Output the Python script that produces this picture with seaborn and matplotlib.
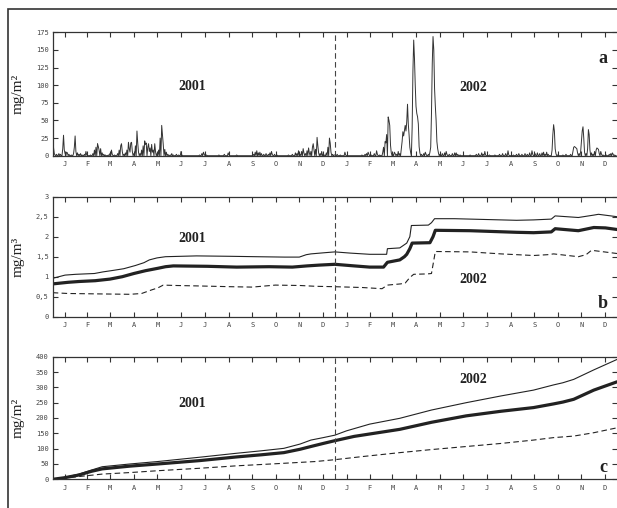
import numpy as np
import pandas as pd
import seaborn as sns
from matplotlib import pyplot as plt
from matplotlib.patches import Rectangle

# x axis: day counted from 1 Jan 2001 (0..730)
months = ['J', 'F', 'M', 'A', 'M', 'J', 'J', 'A', 'S', 'O', 'N', 'D'] * 2
mid_month = [15.5, 45, 74.5, 105, 135.5, 166, 196.5, 227.5, 258, 288.5, 319, 349.5]
month_ticks = mid_month + [d + 365 for d in mid_month]

# panel a: daily deposition (mg/m2), days not listed read as 0
a_days = [0, 1, 2, 3, 5, 8, 10, 13, 14, 15, 16, 18, 19, 21, 24, 27, 28, 29, 30, 32, 34, 36, 38,
          41, 43, 44, 49, 52, 54, 56, 58, 59, 60, 62, 64, 66, 68, 72, 74, 76, 77, 80,
          84, 86, 88, 89, 90, 92, 94, 96, 98, 99, 100, 101, 102, 103, 105, 107, 109, 110, 111,
          113, 115, 117, 119, 120, 121, 123, 124, 125, 126, 128, 129, 130, 132, 133, 135, 137,
          139, 141, 142, 143, 145, 147, 149, 152, 154, 156, 160, 163, 166, 167,
          190, 193, 195, 196, 199, 215, 222, 227, 228, 238,
          260, 262, 264, 266, 268, 270, 273, 276, 279, 281, 283, 284, 287, 290,
          305, 310, 314, 316, 318, 320, 322, 324, 325, 327, 329, 331, 332, 334, 336, 337, 338,
          340, 342, 343, 344, 346, 348, 350, 352, 354, 356, 358, 359, 360, 362, 364,
          365, 368, 372, 378, 379, 400, 404, 406, 408, 409, 412, 416, 419, 420, 423,
          427, 428, 430, 431, 432, 434, 435, 436, 437, 438, 440, 442, 443, 445, 447, 449,
          451, 452, 453, 454, 455, 456, 457, 458, 459, 460, 461, 462, 463, 465, 466, 467, 468,
          469, 470, 471, 472, 473, 474, 475, 477, 480, 482, 483, 486, 488, 489, 490, 491, 492,
          493, 494, 495, 496, 497, 498, 499, 501, 504, 507, 509, 510, 513, 517, 520, 522, 524, 527,
          540, 548, 551, 555, 557, 559, 560, 565, 572, 578, 582, 586, 589, 590,
          596, 600, 603, 607, 611, 614, 617, 620, 621, 624, 627, 630, 633, 635, 637, 639, 641,
          646, 647, 648, 649, 650, 651, 653, 660, 664, 670, 673, 674, 675, 676, 677, 678, 679,
          681, 683, 684, 685, 686, 687, 688, 690, 692, 693, 694, 695, 697, 699, 701, 703, 704,
          705, 706, 707, 709, 710, 712, 716, 720, 722, 724, 725, 727]
a_vals = [25, 12, 3, 1, 2, 3, 2, 10, 29, 8, 3, 5, 4, 2, 1, 3, 12, 28, 6, 4, 2, 3, 1,
          2, 6, 1, 1, 3, 8, 12, 17, 13, 8, 10, 4, 2, 1, 1, 3, 8, 2, 1,
          3, 8, 14, 17, 6, 2, 4, 8, 19, 10, 5, 18, 19, 6, 3, 14, 35, 18, 5,
          3, 8, 14, 21, 16, 18, 12, 17, 6, 11, 16, 5, 8, 17, 6, 3, 8,
          25, 43, 30, 16, 9, 5, 2, 1, 3, 1, 2, 1, 6, 1,
          1, 3, 5, 2, 1, 1, 2, 4, 1, 1,
          2, 5, 7, 4, 5, 3, 2, 3, 2, 4, 6, 2, 2, 1,
          1, 2, 4, 3, 7, 2, 6, 10, 4, 3, 7, 11, 4, 6, 12, 17, 8,
          9, 26, 14, 4, 3, 6, 2, 1, 4, 12, 25, 18, 5, 2, 1,
          1, 2, 1, 5, 1, 1, 2, 3, 5, 2, 1, 3, 7, 2, 1,
          5, 12, 20, 18, 30, 55, 50, 43, 15, 4, 2, 5, 3, 2, 6, 3,
          10, 20, 34, 28, 36, 43, 35, 48, 73, 45, 30, 12, 5, 40, 120, 164, 138,
          100, 70, 60, 55, 45, 13, 4, 2, 3, 5, 2, 2, 5, 12, 60, 130, 169,
          150, 95, 70, 50, 20, 10, 4, 2, 3, 4, 6, 2, 2, 3, 4, 4, 2, 1,
          1, 2, 3, 4, 2, 6, 1, 1, 1, 2, 3, 3, 7, 1,
          1, 2, 3, 2, 3, 2, 4, 7, 2, 3, 4, 3, 4, 5, 2, 5, 2,
          8, 30, 44, 35, 10, 3, 1, 1, 2, 2, 6, 12, 13, 12, 11, 10, 4,
          3, 6, 20, 35, 41, 25, 5, 3, 10, 37, 30, 8, 4, 2, 6, 8, 11,
          10, 9, 3, 6, 2, 1, 1, 2, 3, 4, 2, 1]

# panel b: concentration (mg/m3)
b_upper_day = [0, 8, 16, 30, 54, 65, 79, 92, 107, 118, 125, 135, 146, 186, 230, 263, 300, 319,
               328, 334, 352, 365, 385, 410, 432, 433, 449, 455, 458, 462, 464, 486, 490, 494,
               520, 560, 600, 622, 645, 650, 680, 700, 706, 730]
b_upper = [0.96, 1.0, 1.04, 1.06, 1.08, 1.12, 1.16, 1.2, 1.28, 1.35, 1.42, 1.47, 1.5, 1.52, 1.51,
           1.5, 1.49, 1.49, 1.55, 1.57, 1.6, 1.62, 1.59, 1.56, 1.56, 1.7, 1.72, 1.8, 1.84, 2.0,
           2.28, 2.29, 2.35, 2.45, 2.45, 2.43, 2.41, 2.42, 2.44, 2.52, 2.48, 2.54, 2.56, 2.5]
b_mid_day = [0, 20, 34, 55, 74, 90, 105, 120, 136, 146, 156, 200, 238, 280, 310, 329, 345, 365,
             390, 410, 428, 433, 449, 455, 458, 462, 465, 488, 492, 495, 540, 600, 622, 645,
             650, 680, 700, 715, 730]
b_mid = [0.82, 0.86, 0.88, 0.9, 0.94, 1.0, 1.08, 1.15, 1.21, 1.25, 1.27, 1.26, 1.24, 1.25, 1.24,
         1.27, 1.29, 1.31, 1.27, 1.24, 1.24, 1.36, 1.42, 1.5, 1.56, 1.7, 1.84, 1.85, 2.0, 2.16,
         2.15, 2.11, 2.1, 2.12, 2.2, 2.15, 2.23, 2.22, 2.18]
b_low_day = [0, 20, 59, 100, 115, 128, 136, 143, 160, 186, 230, 258, 288, 320, 340, 365, 400,
             426, 433, 450, 456, 462, 467, 485, 490, 492, 495, 540, 580, 622, 640, 648, 680,
             690, 697, 730]
b_low = [0.6, 0.58, 0.57, 0.56, 0.58, 0.67, 0.72, 0.79, 0.78, 0.77, 0.75, 0.74, 0.79, 0.78, 0.76,
         0.75, 0.73, 0.7, 0.79, 0.82, 0.84, 0.98, 1.06, 1.07, 1.08, 1.3, 1.63, 1.62, 1.57, 1.53,
         1.55, 1.57, 1.5, 1.55, 1.66, 1.58]

# panel c: cumulative deposition (mg/m2)
c_upper_day = [0, 15, 34, 50, 64, 100, 136, 190, 238, 270, 299, 320, 334, 350, 365, 380, 410,
               449, 490, 535, 580, 622, 648, 660, 674, 700, 730]
c_upper = [0, 6, 17, 30, 41, 50, 58, 72, 85, 93, 101, 115, 128, 136, 144, 158, 180, 199, 226,
           250, 272, 291, 308, 315, 326, 357, 391]
c_mid_day = [0, 15, 34, 50, 64, 100, 136, 190, 238, 270, 299, 320, 334, 350, 365, 390, 449, 490,
             535, 580, 622, 648, 660, 674, 700, 730]
c_mid = [0, 5, 14, 26, 34, 43, 50, 61, 73, 80, 87, 98, 107, 117, 126, 140, 163, 186, 207, 222,
         234, 246, 252, 261, 291, 318]
c_low_day = [0, 34, 64, 100, 136, 190, 238, 290, 340, 365, 400, 449, 490, 535, 580, 622, 648,
             674, 700, 730]
c_low = [0, 9, 17, 22, 28, 36, 44, 51, 58, 64, 74, 87, 97, 107, 117, 128, 136, 141, 152, 168]

a_ticks = [0, 25, 50, 75, 100, 125, 150, 175]
b_ticks = [0, 0.5, 1, 1.5, 2, 2.5, 3]
b_ticklabels = ['0', '0,5', '1', '1,5', '2', '2,5', '3']
c_ticks = [0, 50, 100, 150, 200, 250, 300, 350, 400]

sns.set_style('ticks')
plt.rcParams['font.family'] = ['Liberation Serif', 'DejaVu Serif']

ink = '#222222'
W, H = 617, 508
fig = plt.figure(figsize=(W / 100, H / 100), dpi=100)

def px_axes(top, bottom):
    left = 52.7
    return fig.add_axes([left / W, 1 - bottom / H, 1 - left / W, (bottom - top) / H])

ax_a = px_axes(32.3, 155.7)
ax_b = px_axes(196.7, 316.7)
ax_c = px_axes(356.7, 479.3)

# panel a
daily = np.zeros(730)
daily[a_days] = a_vals
df_a = pd.DataFrame({'day': np.arange(730), 'dep': daily})
sns.lineplot(data=df_a, x='day', y='dep', ax=ax_a, color='#333333', lw=0.7, estimator=None)

# panel b
for d, v, lw, ls in [(b_upper_day, b_upper, 0.8, '-'), (b_mid_day, b_mid, 2.3, '-'),
                     (b_low_day, b_low, 0.8, (0, (5, 3)))]:
    sns.lineplot(x=d, y=v, ax=ax_b, color=ink, lw=lw, linestyle=ls, estimator=None)

# panel c
for d, v, lw, ls in [(c_upper_day, c_upper, 0.8, '-'), (c_mid_day, c_mid, 2.3, '-'),
                     (c_low_day, c_low, 0.8, (0, (5, 3)))]:
    sns.lineplot(x=d, y=v, ax=ax_c, color=ink, lw=lw, linestyle=ls, estimator=None)

specs = [(ax_a, 175, a_ticks, [str(t) for t in a_ticks], 'mg/m²', 'a', 0.57, 0.79),
         (ax_b, 3, b_ticks, b_ticklabels, 'mg/m³', 'b', 0.71, 0.11),
         (ax_c, 400, c_ticks, [str(t) for t in c_ticks], 'mg/m²', 'c', 0.76, 0.10)]
year_y = {'a': (0.56, 0.55), 'b': (0.65, 0.31), 'c': (0.62, 0.81)}

for ax, top, yt, ytl, ylab, letter, _, ly in specs:
    ax.set_xlim(0, 730)
    ax.set_ylim(0, top)
    ax.set_xticks(month_ticks)
    ax.set_xticklabels(months)
    ax.set_yticks(yt)
    ax.set_yticklabels(ytl)
    ax.tick_params(direction='in', length=3.6, width=0.8, color='#333333',
                   top=True, right=True, labelsize=5, labelcolor='#444444', pad=3)
    ax.tick_params(axis='x', pad=4)
    for lab in ax.get_xticklabels() + ax.get_yticklabels():
        lab.set_fontfamily('DejaVu Sans Mono')
    for side in ['top', 'left', 'bottom']:
        ax.spines[side].set_color('#333333')
        ax.spines[side].set_linewidth(0.9)
    ax.spines['right'].set_visible(False)
    ax.set_xlabel('')
    ax.set_ylabel(ylab, fontsize=11, color=ink)
    ax.yaxis.set_label_coords(-0.049, 0.5)
    ax.axvline(365, color='#444444', lw=0.8, ls=(0, (5, 3)))
    y01, y02 = year_y[letter]
    ax.text(0.248, y01, '2001', transform=ax.transAxes, ha='center', va='center',
            fontsize=10, fontweight='bold', color=ink)
    ax.text(0.745, y02, '2002', transform=ax.transAxes, ha='center', va='center',
            fontsize=10, fontweight='bold', color=ink)
    ax.text(0.975, ly, letter, transform=ax.transAxes, ha='center', va='center',
            fontsize=13, fontweight='bold', color=ink)

# scanned page frame
fig.add_artist(Rectangle((8 / W, -0.1), 2, 1 - 9 / H + 0.1, transform=fig.transFigure,
                         fill=False, edgecolor='#333333', lw=1.2))

fig.savefig('out.png', dpi=100)
